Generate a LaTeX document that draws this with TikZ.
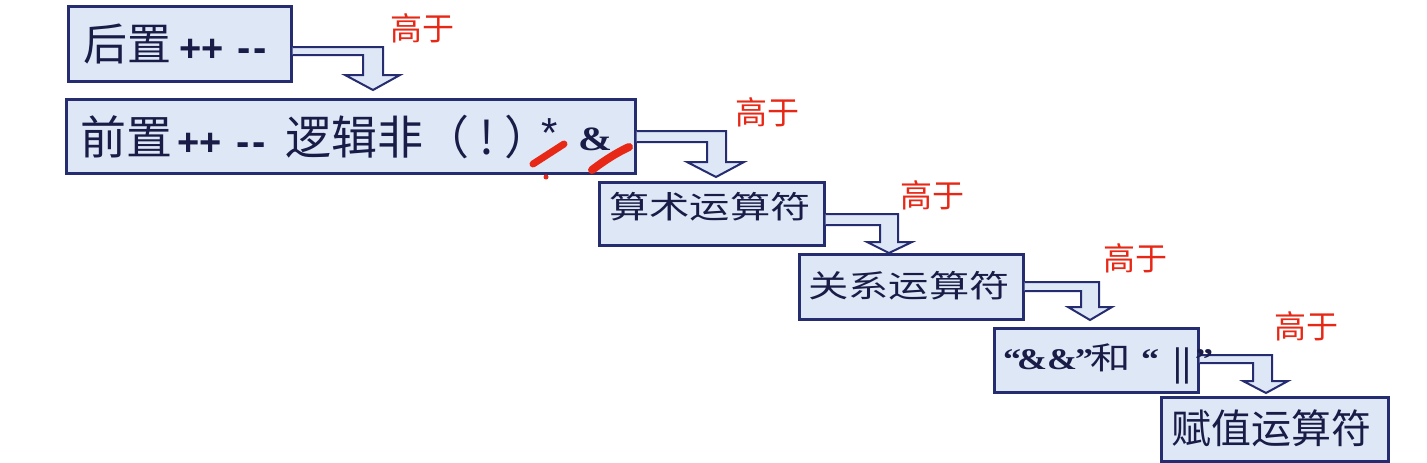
\documentclass[tikz,border=0pt]{standalone}
\usepackage{fontspec}
\newfontfamily\cjk{Noto Sans CJK SC}
\newfontfamily\lat{Liberation Sans}
\newfontfamily\tms{Liberation Serif}
\newcommand\myfs[1]{\fontsize{#1}{#1}\selectfont}
\newcommand\wide[1]{\scalebox{1.3}[1]{#1}}
\definecolor{boxline}{RGB}{38,44,112}
\definecolor{boxfill}{RGB}{222,231,246}
\definecolor{txtcol}{RGB}{24,28,70}
\definecolor{redtxt}{RGB}{232,40,22}
\tikzset{
  box/.style={draw=boxline, fill=boxfill, line width=2.5pt, rectangle, inner sep=0pt, anchor=north west},
  blockarrow/.style={draw=boxline, fill=boxfill, line width=2pt, line join=miter},
  txt/.style={text=txtcol, inner sep=0pt, anchor=base west},
  higher/.style={text=redtxt, inner sep=0pt, font=\cjk\myfs{32}},
  redstroke/.style={draw=redtxt, line width=7pt, line cap=round}
}
\begin{document}
\begin{tikzpicture}[x=1pt,y=-1pt]
\fill[white] (0,0) rectangle (1427,463);
\useasboundingbox (0,0) rectangle (1427,463);
% boxes
\node[box, minimum width=223pt, minimum height=75pt] (b1) at (67,5) {};
\node[box, minimum width=569pt, minimum height=74pt] (b2) at (65,98) {};
\node[box, minimum width=225pt, minimum height=63pt] (b3) at (598,181) {};
\node[box, minimum width=224pt, minimum height=65pt] (b4) at (798,253) {};
\node[box, minimum width=204pt, minimum height=64pt] (b5) at (993,327) {};
\node[box, minimum width=227pt, minimum height=64pt] (b6) at (1160,396) {};
% bent block arrows
\draw[blockarrow] (b1.east |- 0,47) -- (383,47) -- (383,75) -- (400,75) -- (373,90) -- (345,75) -- (363,75) -- (363,55) -- (b1.east |- 0,55);
\draw[blockarrow] (b2.east |- 0,131) -- (726,131) -- (726,162) -- (744,162) -- (716,177) -- (687,162) -- (707,162) -- (707,142) -- (b2.east |- 0,142);
\draw[blockarrow] (b3.east |- 0,214) -- (898,214) -- (898,242) -- (912,242) -- (889,253) -- (867,242) -- (880,242) -- (880,225) -- (b3.east |- 0,225);
\draw[blockarrow] (b4.east |- 0,282) -- (1099,282) -- (1099,307) -- (1112,307) -- (1090,320) -- (1068,307) -- (1081,307) -- (1081,291) -- (b4.east |- 0,291);
\draw[blockarrow] (b5.east |- 0,355) -- (1272,355) -- (1272,381) -- (1288,381) -- (1266,393) -- (1243,381) -- (1253,381) -- (1253,363) -- (b5.east |- 0,363);
% box 1 text
\node[txt] (t1a) at (83,60) {\cjk\myfs{44}后置};
\node[txt] (t1b) at (179,61) {\lat\bfseries\myfs{38}++};
\node[txt] (t1c) at (237,61) {\lat\bfseries\myfs{40}-\kern3pt-};
% box 2 text
\node[txt] (t2a) at (80,154) {\cjk\myfs{46}前置};
\node[txt] (t2b) at (177,155) {\lat\bfseries\myfs{38}++};
\node[txt] (t2c) at (236,155) {\lat\bfseries\myfs{40}-\kern3pt-};
\node[txt] (t2d) at (285,154) {\cjk\myfs{46}逻辑非（};
\node[txt] (t2e) at (479,154) {\cjk\myfs{46}!};
\node[txt] (t2f) at (504,154) {\cjk\myfs{46}）\kern-9pt\raisebox{7pt}{\lat\myfs{42}*}};
\node[txt] (t2h) at (578,150) {\tms\bfseries\myfs{34}\scalebox{1.2}[1]{\&}};
% box 3, 4, 6 texts
\node[txt] (t3) at (609,218) {\cjk\myfs{31}\wide{算术运算符}};
\node[txt] (t4) at (808,297) {\cjk\myfs{31}\wide{关系运算符}};
\node[txt] (t6) at (1171,443) {\cjk\myfs{40}赋值运算符};
% box 5 text
\node[txt] (t5a) at (1003,369) {\tms\bfseries\myfs{30}\scalebox{1.2}[1]{“}};
\node[txt] (t5b) at (1017,369) {\tms\bfseries\myfs{30}\scalebox{1.2}[1]{\&\&}};
\node[txt] (t5c) at (1075,369) {\tms\bfseries\myfs{30}\scalebox{1.2}[1]{”}};
\node[txt] (t5d) at (1090,369) {\cjk\myfs{31}\scalebox{1.3}[1]{和}};
\node[txt] (t5e) at (1141,369) {\tms\bfseries\myfs{30}\scalebox{1.2}[1]{“}};
\node[txt] (t5f) at (1173,375) {\tms\bfseries\myfs{40}||};
\node[txt] (t5g) at (1195,369) {\tms\bfseries\myfs{30}\scalebox{1.2}[1]{”}};
% red labels
\node[higher] (h1) at (422,28) {高于};
\node[higher] (h2) at (767,112) {高于};
\node[higher] (h3) at (932,195) {高于};
\node[higher] (h4) at (1135,258) {高于};
\node[higher] (h5) at (1306,326) {高于};
% hand-drawn red marks
\draw[redstroke] (533,164) -- (564,144);
\fill[redtxt] (546,177) circle (2.5pt);
\draw[redstroke, line width=8pt] (592,170) .. controls (605,160) and (618,152) .. (629,147);
\end{tikzpicture}
\end{document}
